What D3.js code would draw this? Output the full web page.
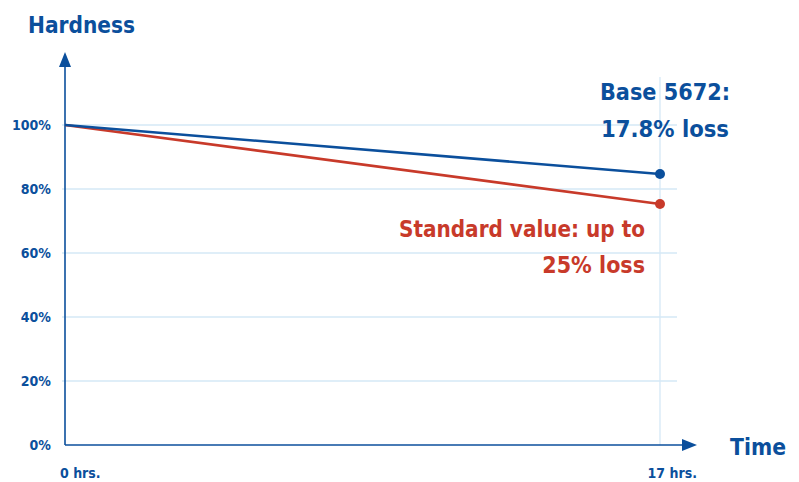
<!DOCTYPE html>
<html>
<head>
<meta charset="utf-8">
<script src="https://cdn.jsdelivr.net/npm/d3@7"></script>
<style>
  body { margin: 0; background: #fff; }
  text { font-family: "DejaVu Sans Condensed", "DejaVu Sans", sans-serif; font-weight: bold; font-stretch: condensed; }
</style>
</head>
<body>
<svg id="chart" width="799" height="482"></svg>
<script>
// data
const hours = [0, 17];
const base5672 = [100, 84.7];
const standard = [100, 75.3];
const yTicks = [0, 20, 40, 60, 80, 100];
const xTickLabels = ["0 hrs.", "17 hrs."];

const blue = "#0b4f9c",
    red = "#c83a2a",
    grid = "#d5e8f6";

const svg = d3.select("#chart");

const x = d3.scaleLinear().domain([0, 17]).range([65, 660]);
const y = d3.scaleLinear().domain([0, 100]).range([445, 125]);

// grid lines
svg.selectAll("line.grid")
  .data(yTicks.filter(d => d > 0))
  .enter().append("line")
    .attr("x1", 62).attr("x2", 677)
    .attr("y1", d => y(d)).attr("y2", d => y(d))
    .attr("stroke", grid).attr("stroke-width", 1.3);

// vertical line at 17 hrs
svg.append("line")
    .attr("x1", x(17)).attr("x2", x(17))
    .attr("y1", 77).attr("y2", y(0))
    .attr("stroke", grid).attr("stroke-width", 1.3);

// y tick labels
svg.selectAll("text.ytick")
  .data(yTicks)
  .enter().append("text")
    .attr("x", 51).attr("y", d => y(d) + 5)
    .attr("text-anchor", "end")
    .attr("font-size", 14)
    .attr("fill", blue)
    .text(d => d + "%");

// x tick labels
svg.selectAll("text.xtick")
  .data(hours)
  .enter().append("text")
    .attr("x", (d, i) => i === 0 ? 60 : 697)
    .attr("y", 478)
    .attr("text-anchor", (d, i) => i === 0 ? "start" : "end")
    .attr("font-size", 14)
    .attr("fill", blue)
    .text((d, i) => xTickLabels[i]);

// axes with arrows
svg.append("line")
    .attr("x1", x(0)).attr("x2", x(0))
    .attr("y1", y(0)).attr("y2", 62)
    .attr("stroke", blue).attr("stroke-width", 1.6);
svg.append("path")
    .attr("d", `M${x(0)},52 L${x(0) + 6},67 L${x(0) - 6},67 Z`)
    .attr("fill", blue);

svg.append("line")
    .attr("x1", x(0)).attr("x2", 686)
    .attr("y1", y(0)).attr("y2", y(0))
    .attr("stroke", blue).attr("stroke-width", 1.6);
svg.append("path")
    .attr("d", `M697,${y(0)} L682,${y(0) - 6} L682,${y(0) + 6} Z`)
    .attr("fill", blue);

// series
const line = d3.line().x((d, i) => x(hours[i])).y(d => y(d));

[[standard, red], [base5672, blue]].forEach(([vals, c]) => {
  svg.append("path")
      .attr("d", line(vals))
      .attr("fill", "none")
      .attr("stroke", c)
      .attr("stroke-width", 2.6);
  svg.append("circle")
      .attr("cx", x(17)).attr("cy", y(vals[1]))
      .attr("r", 5)
      .attr("fill", c);
});

// titles
svg.append("text").attr("x", 28).attr("y", 33)
    .attr("font-size", 23).attr("fill", blue)
    .attr("textLength", 107).attr("lengthAdjust", "spacingAndGlyphs").text("Hardness");
svg.append("text").attr("x", 730).attr("y", 455)
    .attr("font-size", 23).attr("fill", blue)
    .attr("textLength", 56).attr("lengthAdjust", "spacingAndGlyphs").text("Time");

// annotations
svg.append("text").attr("x", 600).attr("y", 100)
    .attr("font-size", 23).attr("fill", blue)
    .attr("textLength", 130).attr("lengthAdjust", "spacingAndGlyphs").text("Base 5672:");
svg.append("text").attr("x", 601).attr("y", 137)
    .attr("font-size", 23).attr("fill", blue)
    .attr("textLength", 128).attr("lengthAdjust", "spacingAndGlyphs").text("17.8% loss");

svg.append("text").attr("x", 399).attr("y", 237)
    .attr("font-size", 23).attr("fill", red)
    .attr("textLength", 246).attr("lengthAdjust", "spacingAndGlyphs").text("Standard value: up to");
svg.append("text").attr("x", 645).attr("y", 273).attr("text-anchor", "end")
    .attr("font-size", 23).attr("fill", red).text("25% loss");
</script>
</body>
</html>
